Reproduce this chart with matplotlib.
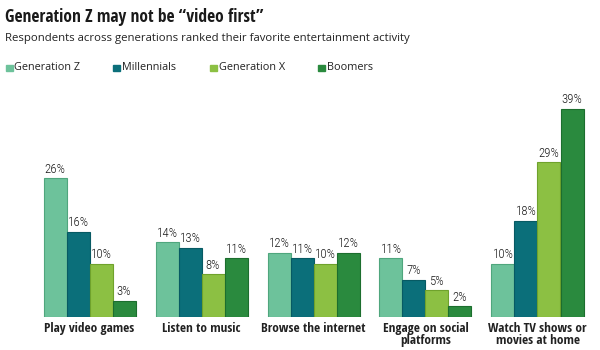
import numpy as np
import matplotlib.pyplot as plt

activities = ["Play video games", "Listen to music", "Browse the internet",
              "Engage on social\nplatforms", "Watch TV shows or\nmovies at home"]
generations = ["Generation Z", "Millennials", "Generation X", "Boomers"]
gen_z = [26, 14, 12, 11, 10]
millennials = [16, 13, 11, 7, 18]
gen_x = [10, 8, 10, 5, 29]
boomers = [3, 11, 12, 2, 39]
colors = ["#6dc29b", "#0b6f7a", "#8cc043", "#2a8a3e"]
edges = ["#4fa67d", "#075a63", "#6fa22c", "#1c6e2e"]

series = [gen_z, millennials, gen_x, boomers]
cond = ["Open Sans Condensed", "DejaVu Sans"]
light = ["Open Sans Condensed Light", "Roboto Condensed", "DejaVu Sans"]

fig = plt.figure(figsize=(6, 3.5), dpi=100)
base_px = 317
top_px = 90
ax = fig.add_axes([0, (350 - base_px) / 350, 1, (base_px - top_px) / 350])

# pixel based scale so bars land where the reference has them
px_per_pct = 208 / 39
spacing = 112
c0 = 89.5
ax.set_xlim(-c0 / spacing, (600 - c0) / spacing)
ax.set_ylim(0, (base_px - top_px) / px_per_pct)
ax.axis("off")

x = np.arange(len(activities))
w = 23 / spacing
for i, vals in enumerate(series):
    pos = x + (i - 1.5) * w
    ax.bar(pos, vals, width=w, color=colors[i], edgecolor=edges[i], linewidth=0.8)
    for p, v in zip(pos, vals):
        ax.text(p, v + 0.5, f"{v}%", ha="center", va="bottom", fontsize=9.3,
                family=light, stretch="condensed", weight="light", color="#1a1a1a")

for xi, lab in zip(x, activities):
    ax.text(xi, -1.0, lab, ha="center", va="top", fontsize=9.5, fontweight="bold",
            family=cond, stretch="condensed", color="#222222", linespacing=0.9)

fig.text(5 / 600, 1 - 17 / 350, "Generation Z may not be \u201cvideo first\u201d",
         fontsize=12.5, fontweight="bold", family=cond, stretch="condensed",
         va="center", ha="left", color="#1a1a1a")
fig.text(5 / 600, 1 - 38 / 350,
         "Respondents across generations ranked their favorite entertainment activity",
         fontsize=8.2, family="Open Sans", va="center", ha="left", color="#222222")

leg_x = [6, 113, 210, 318]
for lx, name, col in zip(leg_x, generations, colors):
    fig.patches.append(plt.Rectangle((lx / 600, 1 - 71 / 350), 6.5 / 600, 6.5 / 350,
                                     transform=fig.transFigure, color=col))
    fig.text((lx + 8.5) / 600, 1 - 67.5 / 350, name, fontsize=7.8, family="Open Sans",
             va="center", ha="left", color="#222222")

fig.savefig("out.png", dpi=100)
